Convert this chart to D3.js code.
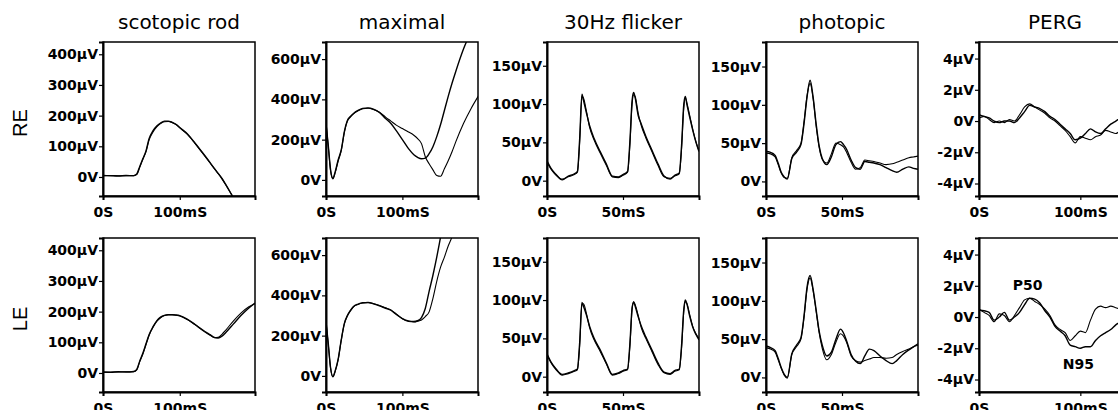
<!DOCTYPE html>
<html lang="en">
<head>
<meta charset="UTF-8">
<title>ERG / PERG traces</title>
<script src="https://cdn.jsdelivr.net/npm/d3@7"></script>
<style>
  body { margin: 0; background: #fff; }
  svg { display: block; }
</style>
</head>
<body>
<div id="chart"></div>
<script>
// ---- data (time in ms, amplitude in µV) ----
const rowNames = ["RE", "LE"];

const scotT   = [0,10,20,30,40,44,48,52,56,60,65,70,75,80,85,90,95,100,110,120,130,140,145,150,155,160,170,180,190,198];
const scotRE1 = [5,4,3,5,4,10,35,60,85,125,150,166,176,182,182,178,172,161,140,110,78,45,28,12,-5,-25,-68,-110,-150,-180];
const scotRE2 = [4,5,4,4,5,8,32,58,82,120,146,163,174,180,181,178,171,160,139,109,77,44,27,11,-6,-26,-69,-111,-151,-181];
const scotLE1 = [3,2,4,3,5,12,40,65,95,125,150,170,182,188,190,190,189,187,175,158,140,124,116,114,120,132,160,188,212,228];
const scotLE2 = [2,3,3,4,4,10,38,62,92,122,148,168,180,187,190,190,188,186,174,157,138,122,115,116,126,140,170,196,216,226];

const maxT   = [0,3,6,9,12,16,20,24,28,32,36,42,48,55,62,70,78,85,92,100,108,115,120,125,130,135,140,145,150,155,160,165,170,180,190,200];
const maxRE1 = [280,170,50,8,40,100,150,240,295,315,330,345,355,358,352,335,305,280,245,200,155,125,112,105,108,130,165,215,275,345,415,480,540,650,740,830];
const maxRE2 = [282,165,45,5,35,95,145,235,292,313,328,343,353,356,350,336,312,292,272,255,238,222,205,180,115,80,50,22,18,55,95,140,190,280,355,420];
const maxLE1 = [270,160,40,-5,25,85,180,260,300,325,345,357,363,364,358,348,336,326,305,285,273,270,274,290,335,420,500,590,690,790,880,950,1000,1100,1200,1300];
const maxLE2 = [268,155,38,-3,22,82,178,258,298,323,343,355,362,365,360,350,338,327,308,284,270,268,272,278,295,318,385,470,540,590,645,690,740,830,920,1000];

const flkT   = [0,3,6,10,14,18,20,21.5,23,24,26,28,31,35,39,43,47,50,53,54.5,56,57,58,60,62,65,69,73,77,81,84,87,88.5,90,91,92,94,96,98,100];
const flkRE1 = [26,15,8,1,6,9,12,55,113,105,88,72,55,38,22,6,5,8,12,50,105,115,108,85,74,58,40,22,6,2,7,10,45,100,110,100,82,65,50,38];
const flkRE2 = [24,14,7,2,5,8,11,50,110,108,90,70,53,36,20,5,4,7,11,45,100,112,110,88,72,56,38,20,5,3,6,9,40,95,108,102,84,66,51,39];
const flkLE1 = [30,18,10,3,5,8,10,45,97,92,80,66,50,35,18,3,5,8,10,42,90,97,92,78,66,52,35,18,6,4,8,10,40,88,100,95,78,64,55,48];
const flkLE2 = [28,17,9,2,4,7,9,40,95,95,82,64,48,33,17,2,4,7,9,38,88,98,94,80,64,50,33,16,5,3,7,9,36,85,98,96,80,65,56,50];

const phoT   = [0,3,6,8,10,12,14,17,20,23,25,27,29,31,33,35,37,40,43,46,49,51,53,56,59,62,65,68,71,75,79,83,86,90,94,97,100];
const phoRE1 = [39,38,34,24,12,6,3,30,38,48,75,110,132,110,75,46,30,22,32,48,52,48,42,28,18,16,26,25,24,22,18,14,12,16,19,17,16];
const phoRE2 = [37,36,32,22,11,5,4,31,40,50,78,112,128,108,72,44,29,24,36,50,48,45,38,25,16,18,28,27,26,24,22,23,25,28,31,32,33];
const phoLE1 = [41,39,35,25,13,4,0,31,42,52,80,118,133,115,88,60,42,28,33,50,63,58,48,30,21,18,28,37,35,28,22,18,22,30,36,40,44];
const phoLE2 = [39,37,33,23,12,3,-1,30,40,50,78,115,130,113,86,58,38,23,30,46,57,54,46,28,22,20,22,24,26,26,25,26,30,34,37,40,42];

const pergT   = [0,5,10,15,20,25,30,35,40,45,50,55,60,65,70,75,80,85,90,95,100,105,110,115,120,125,130,135,140,145,150];
const pergRE1 = [0.4,0.3,0.2,0.0,-0.1,0.0,0.0,-0.1,0.2,0.6,1.0,0.9,0.8,0.6,0.3,0.1,-0.2,-0.5,-0.8,-1.2,-1.1,-0.8,-0.5,-0.7,-0.8,-0.5,-0.2,0.0,0.2,0.3,0.4];
const pergRE2 = [0.2,0.3,0.1,-0.1,0.0,-0.1,0.1,0.0,0.4,0.9,1.1,0.9,0.7,0.5,0.2,0.0,-0.3,-0.6,-1.0,-1.4,-1.0,-1.1,-1.2,-1.0,-0.9,-0.6,-0.7,-0.8,-0.6,-0.5,-0.4];
const pergLE1 = [0.45,0.4,0.3,-0.2,0.0,0.3,-0.2,0.0,0.3,0.8,1.2,1.15,0.9,0.4,0.0,-0.6,-0.9,-1.2,-1.8,-1.9,-2.0,-1.9,-1.9,-1.5,-1.2,-1.0,-0.8,-0.5,-0.3,-0.2,-0.1];
const pergLE2 = [0.5,0.3,0.1,-0.3,0.2,0.1,-0.3,0.1,0.6,1.1,1.2,1.0,0.8,0.5,0.1,-0.5,-0.8,-1.0,-1.5,-1.2,-0.9,-1.0,-0.2,0.5,0.7,0.6,0.7,0.6,0.5,0.5,0.5];

const scotTicks = [0, 100, 200, 300, 400];
const maxTicks  = [0, 200, 400, 600];
const flkTicks  = [0, 50, 100, 150];
const phoTicks  = [0, 50, 100, 150];
const pergTicks = [-4, -2, 0, 2, 4];

const pergMarks = [
  { text: "P50", t: 48, v: 1.75 },
  { text: "N95", t: 98, v: -3.3 }
];

const panels = [
  { title: "scotopic rod", t: scotT, rows: [[scotRE1, scotRE2], [scotLE1, scotLE2]], x: [0, 198], y: [-62, 440], xt: [0, 100], yt: scotTicks },
  { title: "maximal",      t: maxT,  rows: [[maxRE1, maxRE2], [maxLE1, maxLE2]],     x: [0, 199], y: [-80, 685], xt: [0, 100], yt: maxTicks },
  { title: "30Hz flicker", t: flkT,  rows: [[flkRE1, flkRE2], [flkLE1, flkLE2]],     x: [0, 100], y: [-20, 181], xt: [0, 50],  yt: flkTicks },
  { title: "photopic",     t: phoT,  rows: [[phoRE1, phoRE2], [phoLE1, phoLE2]],     x: [0, 100], y: [-19, 182], xt: [0, 50],  yt: phoTicks },
  { title: "PERG",         t: pergT, rows: [[pergRE1, pergRE2], [pergLE1, pergLE2]], x: [0, 150], y: [-4.8, 5.06], xt: [0, 100], yt: pergTicks, marks: pergMarks }
];

// ---- layout ----
const width = 1118, height = 410;
const panelLeft = [103, 326, 547, 766, 979];
const rowTop = [42, 238];
const pw = 152, ph = 154;

const svg = d3.select("#chart").append("svg")
  .attr("width", width)
  .attr("height", height);

const fmtY = v => v === 0 ? "0V" : v + "µV";
const fmtX = v => v === 0 ? "0S" : v + "mS";

// row labels
rowNames.forEach((name, r) => {
  svg.append("text")
    .attr("transform", `translate(27, ${rowTop[r] + ph / 2 + 4}) rotate(-90)`)
    .attr("text-anchor", "middle")
    .style("font-family", "Liberation Sans, Arial, sans-serif")
    .style("font-size", "20px")
    .text(name);
});

panels.forEach((p, c) => {
  // column title
  svg.append("text")
    .attr("x", panelLeft[c] + pw / 2)
    .attr("y", 29)
    .attr("text-anchor", "middle")
    .style("font-family", "DejaVu Sans, sans-serif")
    .style("font-size", "20px")
    .text(p.title);

  p.rows.forEach((traces, r) => {
    const g = svg.append("g")
      .attr("transform", `translate(${panelLeft[c]}, ${rowTop[r]})`);

    const x = d3.scaleLinear().domain(p.x).range([0, pw]);
    const y = d3.scaleLinear().domain(p.y).range([ph, 0]);

    const clipId = `clip-${c}-${r}`;
    g.append("clipPath").attr("id", clipId)
      .append("rect").attr("width", pw).attr("height", ph);

    const line = d3.line()
      .x((d, i) => x(p.t[i]))
      .y(d => y(d))
      .curve(d3.curveMonotoneX);

    traces.forEach((vals, k) => {
      g.append("path")
        .datum(vals)
        .attr("clip-path", `url(#${clipId})`)
        .attr("fill", "none")
        .attr("stroke", "#000")
        .attr("stroke-width", k === 0 ? 1.4 : 1.1)
        .attr("d", line);
    });

    // frame
    g.append("rect")
      .attr("width", pw).attr("height", ph)
      .attr("fill", "none")
      .attr("stroke", "#000")
      .attr("stroke-width", 1.5);

    const yAxis = g.append("g")
      .call(d3.axisLeft(y).tickValues(p.yt).tickFormat(fmtY).tickSize(4).tickPadding(1));
    const xAxis = g.append("g")
      .attr("transform", `translate(0, ${ph})`)
      .call(d3.axisBottom(x).tickValues(p.xt).tickFormat(fmtX).tickSize(4).tickPadding(7));

    [yAxis, xAxis].forEach(a => {
      a.select(".domain").attr("stroke-width", 2);
      a.selectAll(".tick line").attr("stroke-width", 1.2);
      a.selectAll(".tick text")
        .attr("fill", "#000")
        .style("font-family", "DejaVu Sans, sans-serif")
        .style("font-weight", "bold")
        .style("font-size", "14px");
    });

    if (p.marks && r === 1) {
      g.selectAll(".mark")
        .data(p.marks)
        .join("text")
        .attr("x", d => x(d.t))
        .attr("y", d => y(d.v))
        .attr("text-anchor", "middle")
        .style("font-family", "DejaVu Sans, sans-serif")
        .style("font-weight", "bold")
        .style("font-size", "14px")
        .text(d => d.text);
    }
  });
});
</script>
</body>
</html>
